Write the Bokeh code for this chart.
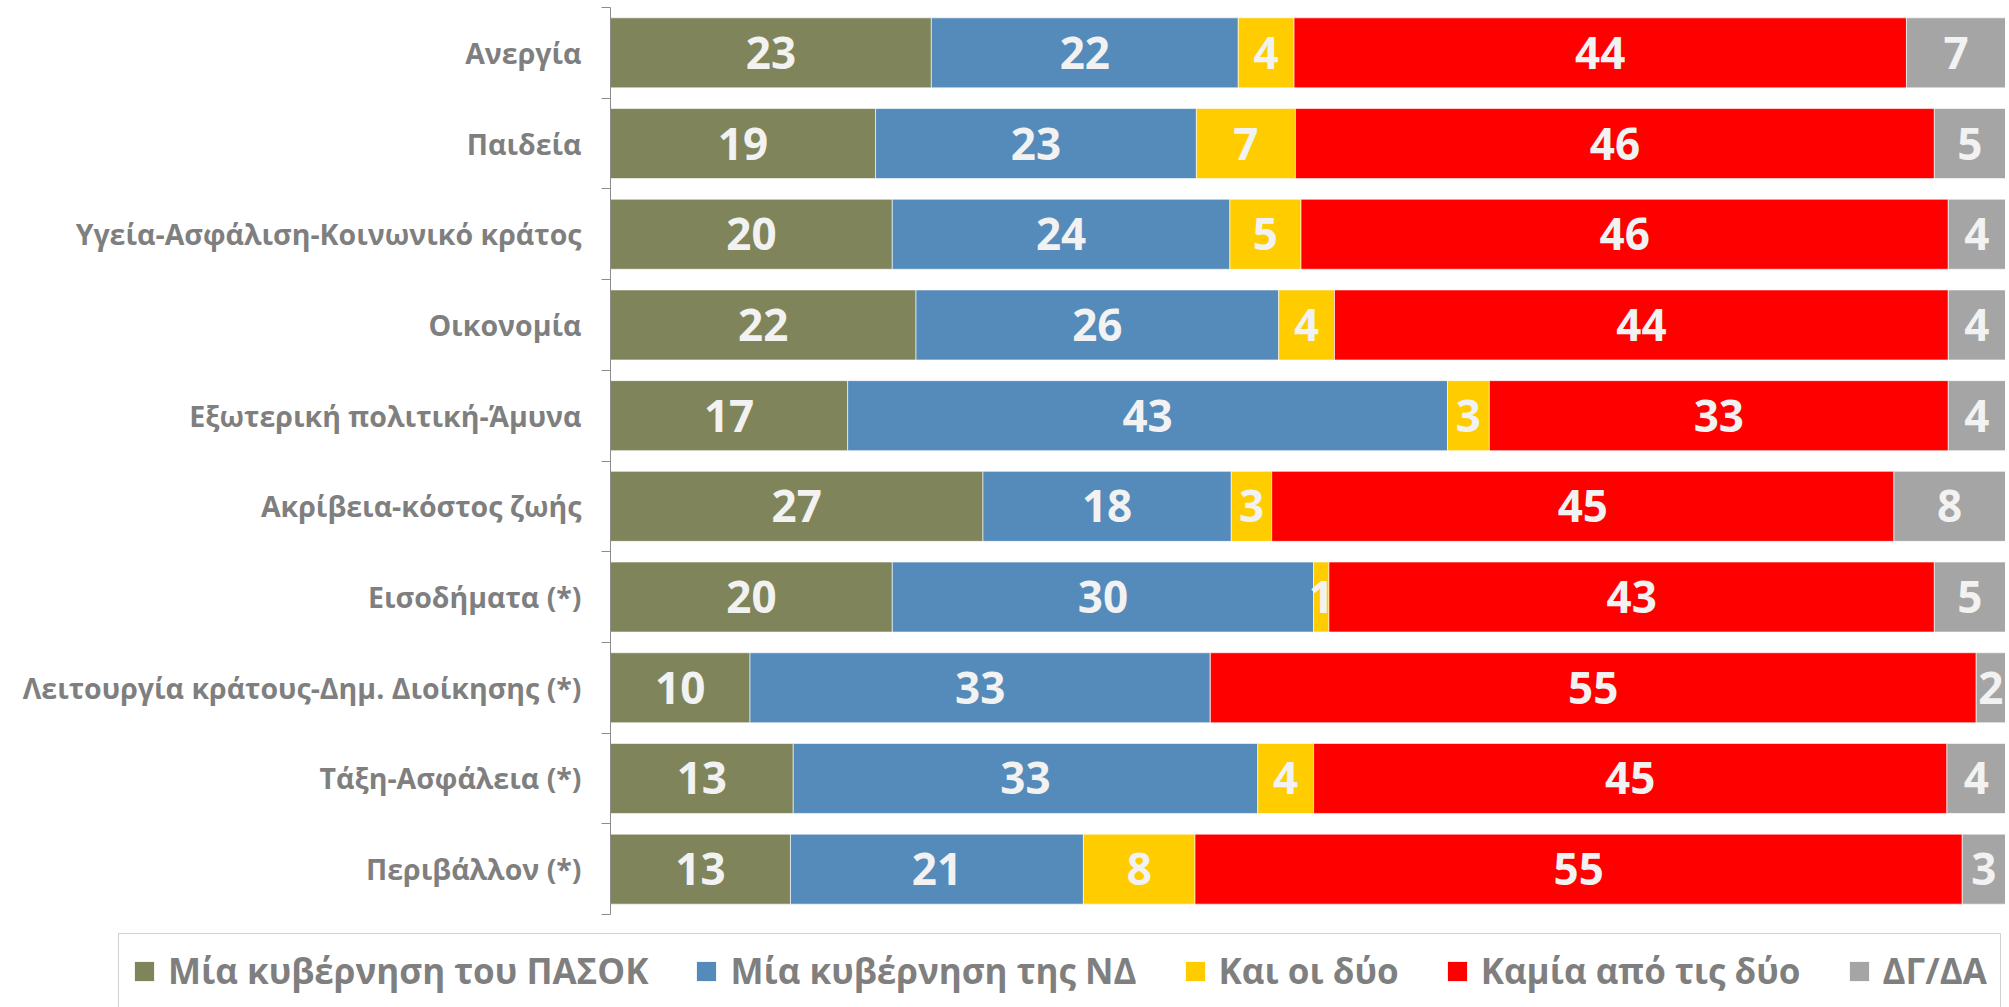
from bokeh.plotting import figure
from bokeh.models import (ColumnDataSource, Range1d, FixedTicker, Legend, LegendItem)
from bokeh.layouts import column
from bokeh.embed import file_html
from bokeh.resources import INLINE
from bokeh.core.properties import value

categories = ["Ανεργία", "Παιδεία", "Υγεία-Ασφάλιση-Κοινωνικό κράτος", "Οικονομία",
              "Εξωτερική πολιτική-Άμυνα", "Ακρίβεια-κόστος ζωής", "Εισοδήματα (*)",
              "Λειτουργία κράτους-Δημ. Διοίκησης (*)", "Τάξη-Ασφάλεια (*)", "Περιβάλλον (*)"]
series_names = ["Μία κυβέρνηση του ΠΑΣΟΚ", "Μία κυβέρνηση της ΝΔ", "Και οι δύο",
                "Καμία από τις δύο", "ΔΓ/ΔΑ"]
pasok = [23.0, 19.0, 20.2, 21.9, 17.0, 26.7, 20.2, 10.0, 13.1, 12.9]
nd = [22.0, 23.0, 24.2, 26.0, 43.0, 17.8, 30.2, 33.0, 33.3, 21.0]
both = [4.0, 7.1, 5.1, 4.0, 3.0, 2.9, 1.1, 0.0, 4.0, 8.0]
neither = [43.9, 45.8, 46.4, 44.0, 32.9, 44.6, 43.4, 54.9, 45.4, 55.0]
dkna = [7.1, 5.1, 4.1, 4.1, 4.1, 8.0, 5.1, 2.1, 4.2, 3.1]
colors = ["#7F845A", "#558BBA", "#FFCC00", "#FF0000", "#A5A5A5"]

keys = ["pasok", "nd", "both", "neither", "dkna"]
n = len(categories)
ypos = [n - 0.5 - i for i in range(n)]
data = dict(y=ypos, cat=categories, pasok=pasok, nd=nd, both=both, neither=neither, dkna=dkna)
source = ColumnDataSource(data)

FONT = "Open Sans"
p = figure(width=2005, height=925, output_backend="svg", toolbar_location=None,
           x_range=Range1d(0, 100), y_range=Range1d(0, n),
           min_border_left=610, min_border_right=0, min_border_top=7, min_border_bottom=11)
p.outline_line_color = None
p.grid.visible = False
p.xaxis.visible = False

renderers = p.hbar_stack(keys, y="y", height=0.772, color=colors, source=source,
                         line_color="white", line_width=1, line_alpha=0.6)

# value labels
lx, ly, lt = [], [], []
series = [pasok, nd, both, neither, dkna]
for i in range(n):
    left = 0.0
    for s in series:
        v = s[i]
        if v >= 0.5:
            lx.append(left + v / 2)
            ly.append(ypos[i])
            lt.append("%d" % round(v))
        left += v
p.text(x=lx, y=ly, text=lt, text_align="center", text_baseline="middle",
       text_color="#F2F2F2", text_font=value(FONT), text_font_style="bold",
       text_font_size="44px")

yaxis = p.yaxis[0]
yaxis.ticker = FixedTicker(ticks=ypos, minor_ticks=list(range(0, n + 1)))
yaxis.major_label_overrides = {y: c for y, c in zip(ypos, categories)}
yaxis.major_tick_line_color = None
yaxis.major_tick_out = 0
yaxis.major_tick_in = 0
yaxis.minor_tick_out = 9
yaxis.minor_tick_in = 0
yaxis.minor_tick_line_color = "#8C8C8C"
yaxis.axis_line_color = "#8C8C8C"
yaxis.major_label_standoff = 20
yaxis.major_label_text_font = FONT
yaxis.major_label_text_font_style = "bold"
yaxis.major_label_text_font_size = "28.5px"
yaxis.major_label_text_color = "#7F7F7F"

# legend figure (its frame spans the full width)
pl = figure(width=2005, height=82, output_backend="svg", toolbar_location=None,
            x_range=Range1d(0, 1), y_range=Range1d(0, 1),
            min_border_left=0, min_border_right=0, min_border_top=0, min_border_bottom=0)
pl.outline_line_color = None
pl.axis.visible = False
pl.grid.visible = False
if "frame_align" in pl.properties():
    pl.frame_align = False
    p.frame_align = False
swatches = [pl.rect(x=[-10], y=[-10], width=0.01, height=0.01, fill_color=c, line_color=None)
            for c in colors]
legend = Legend(items=[LegendItem(label=nm, renderers=[r]) for nm, r in zip(series_names, swatches)],
                orientation="horizontal", location=(118, -1), margin=0,
                glyph_width=24, glyph_height=24, label_standoff=12, spacing=46,
                padding=13, label_height=28,
                label_text_font=FONT, label_text_font_style="bold",
                label_text_font_size="35px", label_text_color="#7F7F7F",
                border_line_color="#A6A6A6", border_line_width=1.5,
                background_fill_alpha=1.0)
pl.add_layout(legend, "center")

open("out.html", "w").write(file_html(column(p, pl, spacing=0), INLINE))
